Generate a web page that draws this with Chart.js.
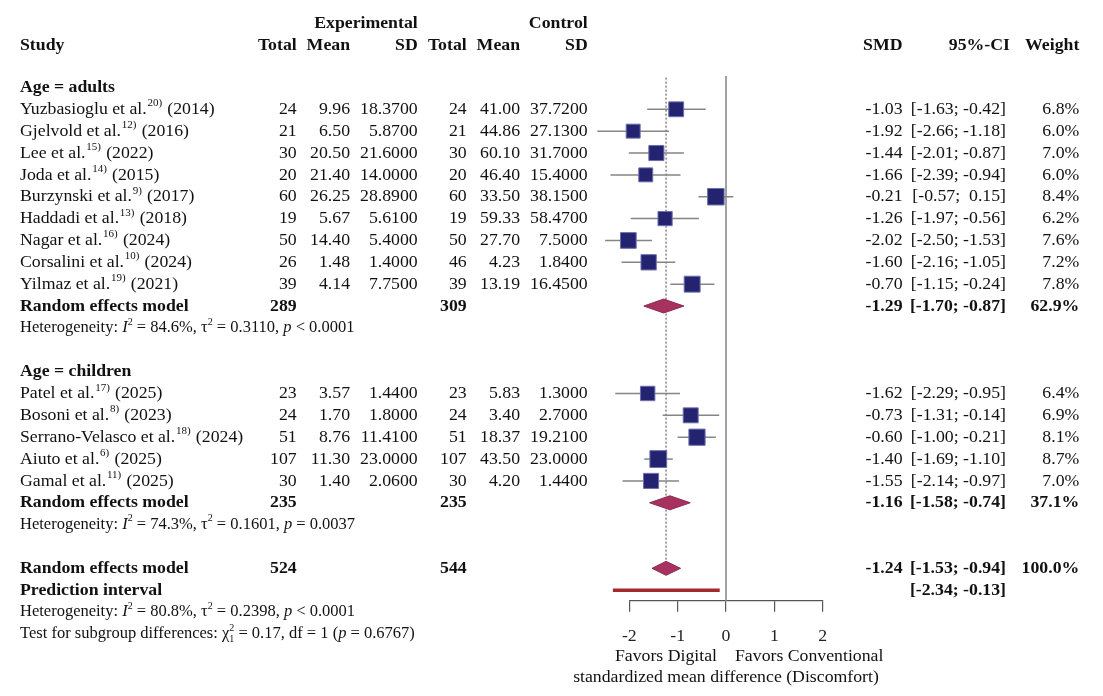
<!DOCTYPE html>
<html>
<head>
<meta charset="utf-8">
<script src="https://cdn.jsdelivr.net/npm/chart.js@4.4.1/dist/chart.umd.min.js"></script>
<style>
    html, body { margin: 0; padding: 0; background: #fff; overflow: hidden; }
    canvas { display: block; }
</style>
</head>
<body>
<canvas id="forest" width="1103" height="696"></canvas>
<script>
"use strict";

// studies
const studyNames = ['Yuzbasioglu et al.', 'Gjelvold et al.', 'Lee et al.', 'Joda et al.', 'Burzynski et al.',
    'Haddadi et al.', 'Nagar et al.', 'Corsalini et al.', 'Yilmaz et al.',
    'Patel et al.', 'Bosoni et al.', 'Serrano-Velasco et al.', 'Aiuto et al.', 'Gamal et al.'];
const studyRefs = ['20)', '12)', '15)', '14)', '9)', '13)', '16)', '10)', '19)', '17)', '8)', '18)', '6)', '11)'];
const studyYears = ['2014', '2016', '2022', '2015', '2017', '2018', '2024', '2024', '2021', '2025', '2023', '2024', '2025', '2025'];
const studyGroup = ['adults', 'adults', 'adults', 'adults', 'adults', 'adults', 'adults', 'adults', 'adults',
    'children', 'children', 'children', 'children', 'children'];

const expTotal = [24, 21, 30, 20, 60, 19, 50, 26, 39, 23, 24, 51, 107, 30];
const expMean = [9.96, 6.50, 20.50, 21.40, 26.25, 5.67, 14.40, 1.48, 4.14, 3.57, 1.70, 8.76, 11.30, 1.40];
const expSD = [18.37, 5.87, 21.60, 14.00, 28.89, 5.61, 5.40, 1.40, 7.75, 1.44, 1.80, 11.41, 23.00, 2.06];
const ctrlTotal = [24, 21, 30, 20, 60, 19, 50, 46, 39, 23, 24, 51, 107, 30];
const ctrlMean = [41.00, 44.86, 60.10, 46.40, 33.50, 59.33, 27.70, 4.23, 13.19, 5.83, 3.40, 18.37, 43.50, 4.20];
const ctrlSD = [37.72, 27.13, 31.70, 15.40, 38.15, 58.47, 7.50, 1.84, 16.45, 1.30, 2.70, 19.21, 23.00, 1.44];

const smd = [-1.03, -1.92, -1.44, -1.66, -0.21, -1.26, -2.02, -1.60, -0.70, -1.62, -0.73, -0.60, -1.40, -1.55];
const ciLow = [-1.63, -2.66, -2.01, -2.39, -0.57, -1.97, -2.50, -2.16, -1.15, -2.29, -1.31, -1.00, -1.69, -2.14];
const ciHigh = [-0.42, -1.18, -0.87, -0.94, 0.15, -0.56, -1.53, -1.05, -0.24, -0.95, -0.14, -0.21, -1.10, -0.97];
const weight = [6.8, 6.0, 7.0, 6.0, 8.4, 6.2, 7.6, 7.2, 7.8, 6.4, 6.9, 8.1, 8.7, 7.0];

// random effects models: adults, children, overall
const pooledGroup = ['adults', 'children', 'overall'];
const pooledExpTotal = [289, 235, 524];
const pooledCtrlTotal = [309, 235, 544];
const pooledSmd = [-1.29, -1.16, -1.24];
const pooledLow = [-1.70, -1.58, -1.53];
const pooledHigh = [-0.87, -0.74, -0.94];
const pooledWeight = [62.9, 37.1, 100.0];
const hetI2 = ['84.6%', '74.3%', '80.8%'];
const hetTau2 = ['0.3110', '0.1601', '0.2398'];
const hetP = ['< 0.0001', '= 0.0037', '< 0.0001'];

const predInterval = [-2.34, -0.13];
const subgroupTest = { chi2: '0.17', df: '1', p: '0.6767' };
const xTicks = [-2, -1, 0, 1, 2];

// ---- row layout (one unit = one text line) ----
const ROW_MIN = -4;
const ROW_MAX = 23.48;
const groupRows = { adults: 0, children: 13 };
const studyRow = [];
let rowCounter = { adults: 1, children: 14 };
studyGroup.forEach((g) => { studyRow.push(rowCounter[g]++); });
const pooledRow = [10, 19, 22];
const hetRow = [11, 20, 24];
const predRow = 23;
const testRow = 25;

const SERIF = '"Liberation Serif", "Times New Roman", serif';
const TXT = '#111';

function f2(v) { return v.toFixed(2); }
function ciText(lo, hi) {
    return '[' + f2(lo) + '; ' + (hi >= 0 ? ' ' : '') + f2(hi) + ']';
}
function font(size, bold, italic) {
    return (italic ? 'italic ' : '') + (bold ? 'bold ' : '') + size + 'px ' + SERIF;
}

// draw a line made of pieces: strings, {i: text}, {sup: text, sub: text}, {ref: text}
function drawRich(ctx, pieces, x, y, align, size, bold) {
    const parts = pieces.map((p) => {
        if (typeof p === 'string') return { t: p, f: font(size, bold), dy: 0 };
        if (p.i) return { t: p.i, f: font(size, bold, true), dy: 0 };
        if (p.ref) return { t: p.ref, f: font(Math.round(size * 0.62), bold), dy: -size * 0.33, pad: 1.5 };
        return { t: p.sup, sub: p.sub, f: font(Math.round(size * 0.62), bold), dy: -size * 0.36 };
    });
    let total = 0;
    parts.forEach((p) => {
        ctx.font = p.f;
        p.w = ctx.measureText(p.t).width + (p.pad || 0);
        if (p.sub) p.w = Math.max(p.w, ctx.measureText(p.sub).width);
        total += p.w;
    });
    let cx = align === 'right' ? x - total : align === 'center' ? x - total / 2 : x;
    ctx.textAlign = 'left';
    ctx.textBaseline = 'middle';
    parts.forEach((p) => {
        ctx.font = p.f;
        ctx.fillText(p.t, cx + (p.pad || 0) / 2, y + p.dy);
        if (p.sub) ctx.fillText(p.sub, cx, y + size * 0.3);
        cx += p.w;
    });
}

const COL = {
    study: 20, expTotal: 296.7, expMean: 350, expSD: 417.7,
    ctrlTotal: 466.7, ctrlMean: 520, ctrlSD: 587.7,
    smd: 902.5, ci: 1006, ciHead: 1010, weight: 1079.3
};
const FS = 17.75;
const FS_HET = 16.5;

const textPlugin = {
    id: 'forestText',
    afterDraw(chart) {
        const ctx = chart.ctx;
        const ys = chart.scales.y;
        const xs = chart.scales.x;
        const Y = (r) => ys.getPixelForValue(r);
        const put = (t, x, r, align, bold, size) => {
            ctx.font = font(size || FS, bold);
            ctx.textAlign = align;
            ctx.textBaseline = 'middle';
            ctx.fillText(t, x, Y(r));
        };
        ctx.save();
        ctx.fillStyle = TXT;

        // header
        put('Experimental', COL.expSD, -2.93, 'right', true);
        put('Control', COL.ctrlSD, -2.93, 'right', true);
        put('Study', COL.study, -1.91, 'left', true);
        put('Total', COL.expTotal, -1.91, 'right', true);
        put('Mean', COL.expMean, -1.91, 'right', true);
        put('SD', COL.expSD, -1.91, 'right', true);
        put('Total', COL.ctrlTotal, -1.91, 'right', true);
        put('Mean', COL.ctrlMean, -1.91, 'right', true);
        put('SD', COL.ctrlSD, -1.91, 'right', true);
        put('SMD', COL.smd, -1.91, 'right', true);
        put('95%-CI', COL.ciHead, -1.91, 'right', true);
        put('Weight', COL.weight, -1.91, 'right', true);

        put('Age = adults', COL.study, groupRows.adults, 'left', true);
        put('Age = children', COL.study, groupRows.children, 'left', true);

        studyNames.forEach((name, i) => {
            const r = studyRow[i];
            drawRich(ctx, [name, { ref: studyRefs[i] }, ' (' + studyYears[i] + ')'], COL.study, Y(r), 'left', FS, false);
            put(String(expTotal[i]), COL.expTotal, r, 'right');
            put(f2(expMean[i]), COL.expMean, r, 'right');
            put(expSD[i].toFixed(4), COL.expSD, r, 'right');
            put(String(ctrlTotal[i]), COL.ctrlTotal, r, 'right');
            put(f2(ctrlMean[i]), COL.ctrlMean, r, 'right');
            put(ctrlSD[i].toFixed(4), COL.ctrlSD, r, 'right');
            put(f2(smd[i]), COL.smd, r, 'right');
            put(ciText(ciLow[i], ciHigh[i]), COL.ci, r, 'right');
            put(weight[i].toFixed(1) + '%', COL.weight, r, 'right');
        });

        pooledGroup.forEach((g, k) => {
            const r = pooledRow[k];
            put('Random effects model', COL.study, r, 'left', true);
            put(String(pooledExpTotal[k]), COL.expTotal, r, 'right', true);
            put(String(pooledCtrlTotal[k]), COL.ctrlTotal, r, 'right', true);
            put(f2(pooledSmd[k]), COL.smd, r, 'right', true);
            put(ciText(pooledLow[k], pooledHigh[k]), COL.ci, r, 'right', true);
            put(pooledWeight[k].toFixed(1) + '%', COL.weight, r, 'right', true);
            drawRich(ctx, ['Heterogeneity: ', { i: 'I' }, { sup: '2' }, ' = ' + hetI2[k] + ', \u03c4', { sup: '2' },
                ' = ' + hetTau2[k] + ', ', { i: 'p' }, ' ' + hetP[k]], COL.study, Y(hetRow[k]), 'left', FS_HET, false);
        });

        put('Prediction interval', COL.study, predRow, 'left', true);
        put(ciText(predInterval[0], predInterval[1]), COL.ci, predRow, 'right', true);
        drawRich(ctx, ['Test for subgroup differences: \u03c7', { sup: '2', sub: subgroupTest.df },
            ' = ' + subgroupTest.chi2 + ', df = ' + subgroupTest.df + ' (', { i: 'p' }, ' = ' + subgroupTest.p + ')'],
            COL.study, Y(testRow), 'left', FS_HET, false);

        // axis labels
        const x0 = xs.getPixelForValue(0);
        ctx.font = font(FS);
        ctx.textBaseline = 'middle';
        ctx.textAlign = 'right';
        ctx.fillText('Favors Digital', x0 - 9, 656.7);
        ctx.textAlign = 'left';
        ctx.fillText('Favors Conventional', x0 + 9, 656.7);
        ctx.textAlign = 'center';
        ctx.fillText('standardized mean difference (Discomfort)', x0, 677.3);
        ctx.restore();
    }
};

// ---- datasets ----
const datasets = [];
const lineBase = { type: 'scatter', showLine: true, pointRadius: 0, pointHoverRadius: 0, clip: false, tension: 0 };

datasets.push({
    ...lineBase,
    order: 1,
    showLine: false,
    data: smd.map((v, i) => ({ x: v, y: studyRow[i] })),
    pointStyle: 'rect',
    pointRadius: weight.map((w) => 5.7 * Math.sqrt(w) / Math.SQRT2),
    pointHoverRadius: weight.map((w) => 5.7 * Math.sqrt(w) / Math.SQRT2),
    backgroundColor: '#23236f',
    borderColor: '#6f6fae',
    pointBorderWidth: 1
});

pooledSmd.forEach((v, k) => {
    const r = pooledRow[k];
    const h = 0.32;
    datasets.push({
        ...lineBase,
        order: 2,
        data: [
            { x: pooledLow[k], y: r }, { x: v, y: r - h },
            { x: pooledHigh[k], y: r }, { x: v, y: r + h }, { x: pooledLow[k], y: r }
        ],
        fill: 'shape',
        backgroundColor: '#a8325f',
        borderColor: '#8c2a52',
        borderWidth: 1
    });
});

smd.forEach((v, i) => {
    datasets.push({
        ...lineBase,
        order: 3,
        data: [{ x: ciLow[i], y: studyRow[i] }, { x: ciHigh[i], y: studyRow[i] }],
        borderColor: '#858585',
        borderWidth: 1.5
    });
});

datasets.push({
    ...lineBase,
    order: 3,
    data: [{ x: predInterval[0], y: predRow }, { x: predInterval[1], y: predRow }],
    borderColor: '#a32a2c',
    borderWidth: 3.6,
    borderCapStyle: 'butt'
});

datasets.push({
    ...lineBase,
    order: 4,
    data: [{ x: pooledSmd[2], y: -0.45 }, { x: pooledSmd[2], y: pooledRow[2] }],
    borderColor: '#444',
    borderWidth: 1,
    borderDash: [2, 2]
});

datasets.push({
    ...lineBase,
    order: 5,
    data: [{ x: 0, y: -0.52 }, { x: 0, y: ROW_MAX }],
    borderColor: '#9a9a9a',
    borderWidth: 1.8
});

new Chart(document.getElementById('forest'), {
    type: 'scatter',
    data: { datasets: datasets },
    options: {
        responsive: false,
        animation: false,
        events: [],
        layout: { autoPadding: false, padding: { left: 629.3, right: 1103 - 822.7, top: 0, bottom: 0 } },
        plugins: {
            legend: { display: false },
            tooltip: { enabled: false }
        },
        scales: {
            x: {
                type: 'linear',
                position: 'bottom',
                min: xTicks[0],
                max: xTicks[xTicks.length - 1],
                afterBuildTicks: (scale) => { scale.ticks = xTicks.map((v) => ({ value: v })); },
                afterFit: (scale) => { scale.height = 696 - 600.7; },
                ticks: {
                    autoSkip: false,
                    color: '#222',
                    padding: 14,
                    font: { family: SERIF, size: FS }
                },
                grid: { drawOnChartArea: false, drawTicks: true, tickLength: 11, color: '#555', lineWidth: 1.2 },
                border: { display: true, color: '#555', width: 1.2 }
            },
            y: {
                type: 'linear',
                reverse: true,
                min: ROW_MIN,
                max: ROW_MAX,
                display: false
            }
        }
    },
    plugins: [textPlugin]
});
</script>
</body>
</html>
